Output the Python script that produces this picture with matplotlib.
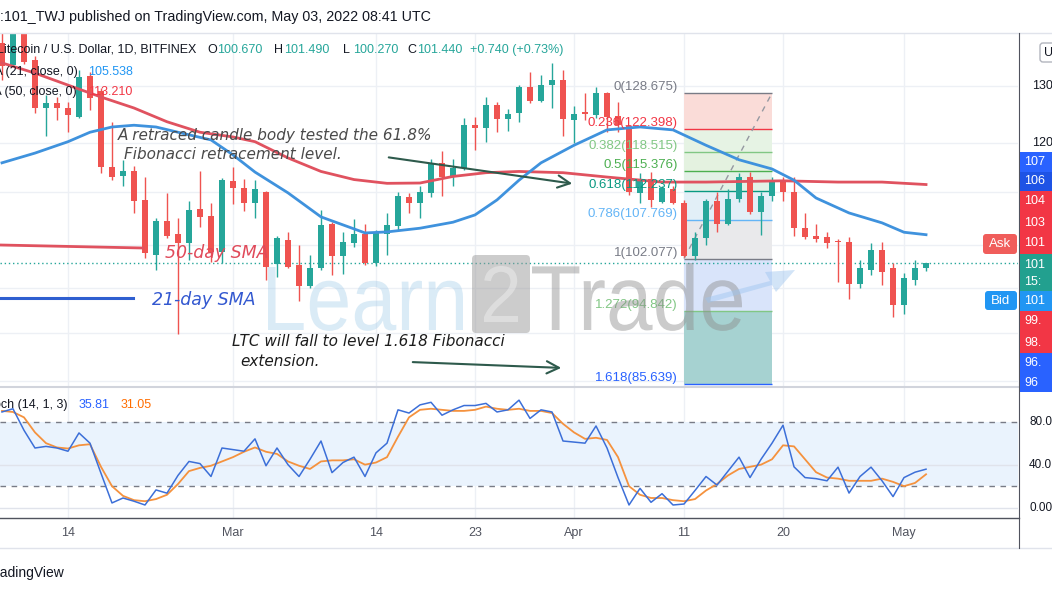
import numpy as np
import pandas as pd
import matplotlib
matplotlib.use("Agg")
import matplotlib.pyplot as plt
from matplotlib.patches import Rectangle, PathPatch, Polygon, FancyBboxPatch
from matplotlib.textpath import TextPath
from matplotlib.font_manager import FontProperties
from matplotlib.transforms import Affine2D, blended_transform_factory
from matplotlib.ticker import NullLocator

plt.rcParams["font.family"] = ["Liberation Sans", "DejaVu Sans"]

# LTC/USD daily candles (Bitfinex), Feb 08 - May 03 2022
dates = pd.date_range("2022-02-08", "2022-05-03", freq="D")
opens = [138.0, 133.8, 140.0, 134.75, 126.0, 126.9, 126.0, 124.5, 131.8, 129.0,
         116.0, 114.6, 115.3, 110.8, 102.6, 107.6, 105.7, 104.3, 109.4, 108.3,
         103.0, 113.8, 112.6, 110.3, 112.0, 101.3, 104.8, 101.2, 98.2, 100.7,
         107.2, 102.5, 104.3, 105.7, 101.5, 105.7, 106.8, 111.3, 110.3, 111.8,
         116.7, 114.6, 115.8, 123.0, 122.6, 126.6, 124.1, 125.1, 129.8, 127.2,
         130.2, 131.0, 123.9, 125.3, 124.8, 128.7, 124.6, 122.8, 111.8, 114.1,
         110.5, 112.5, 110.3, 102.5, 105.0, 110.6, 107.2, 110.9, 114.4, 108.9,
         111.4, 113.9, 112.0, 106.5, 105.4, 105.2, 104.6, 104.5, 98.5, 100.5,
         103.3, 100.7, 95.7, 99.0, 100.67]
highs = [140.0, 141.0, 141.0, 135.5, 128.3, 128.0, 127.1, 132.9, 132.5, 129.6,
         123.5, 117.2, 116.2, 114.4, 108.1, 111.8, 108.1, 110.6, 115.3, 110.3,
         114.2, 116.0, 114.1, 113.9, 112.2, 105.3, 106.0, 104.0, 102.6, 109.3,
         107.5, 105.9, 107.9, 107.2, 106.2, 108.8, 112.1, 111.9, 113.0, 117.3,
         118.6, 117.4, 124.2, 124.4, 128.0, 127.1, 125.8, 130.2, 132.5, 131.9,
         134.1, 132.9, 126.4, 128.7, 129.7, 128.8, 127.1, 123.1, 115.0, 115.2,
         113.0, 113.0, 110.8, 105.9, 111.0, 112.1, 112.5, 115.0, 115.2, 112.0,
         114.4, 114.4, 114.4, 108.8, 107.2, 105.9, 104.9, 105.2, 101.9, 104.3,
         104.4, 101.5, 100.1, 101.9, 101.49]
lows = [131.0, 133.4, 134.0, 125.2, 121.2, 123.9, 121.9, 124.3, 125.6, 115.0,
        113.9, 113.0, 108.8, 102.2, 100.5, 105.1, 91.9, 101.9, 106.7, 101.6,
        101.5, 110.2, 109.1, 108.0, 99.1, 99.5, 100.8, 96.2, 98.0, 100.4,
        99.8, 99.9, 103.7, 101.2, 101.0, 102.6, 106.2, 108.8, 108.1, 111.3,
        111.4, 113.0, 115.5, 118.8, 120.1, 121.8, 122.0, 123.6, 126.9, 127.1,
        126.0, 121.2, 120.0, 123.9, 124.3, 121.9, 121.9, 111.6, 110.3, 109.7,
        110.3, 110.2, 102.3, 101.9, 104.0, 105.9, 107.0, 110.5, 108.6, 105.5,
        110.6, 110.6, 105.4, 104.9, 104.5, 103.6, 98.8, 96.5, 97.9, 99.7,
        98.4, 94.1, 94.4, 98.4, 100.27]
closes = [133.6, 140.0, 134.4, 126.0, 126.9, 126.0, 124.8, 131.6, 127.8, 116.0,
          114.4, 115.3, 110.6, 102.8, 107.6, 105.4, 104.3, 109.3, 108.2, 103.0,
          113.9, 112.6, 110.3, 112.5, 100.9, 105.0, 100.9, 98.2, 100.8, 107.0,
          102.5, 104.5, 105.6, 101.5, 105.9, 107.0, 111.4, 110.3, 112.1, 116.6,
          114.4, 115.8, 123.1, 122.6, 126.6, 124.1, 124.9, 129.8, 127.2, 130.2,
          131.0, 124.1, 124.9, 124.9, 128.7, 124.5, 123.0, 112.0, 114.1, 110.8,
          112.6, 110.3, 102.5, 105.0, 110.6, 107.2, 110.9, 114.4, 108.9, 111.4,
          113.9, 112.0, 106.5, 105.2, 104.9, 104.3, 104.4, 98.5, 100.7, 103.3,
          100.2, 95.7, 99.4, 100.70, 101.44]

# moving averages, sampled off the drawn curves
sma21_dates = ["2022-02-08", "2022-02-11", "2022-02-14", "2022-02-16", "2022-02-18",
               "2022-02-20", "2022-02-22", "2022-02-24", "2022-02-27", "2022-03-01",
               "2022-03-03", "2022-03-06", "2022-03-09", "2022-03-12", "2022-03-13",
               "2022-03-15", "2022-03-18", "2022-03-21", "2022-03-23", "2022-03-25",
               "2022-03-27", "2022-03-29", "2022-04-01", "2022-04-04", "2022-04-07",
               "2022-04-10", "2022-04-13", "2022-04-16", "2022-04-19", "2022-04-21",
               "2022-04-23", "2022-04-26", "2022-04-29", "2022-05-01", "2022-05-03"]
sma21 = [116.7, 118.3, 120.2, 121.8, 122.7, 123.0, 122.7, 121.8, 120.5, 118.0,
         115.2, 111.9, 108.2, 106.4, 105.8, 105.95, 106.5, 107.4, 108.5, 110.8,
         113.9, 116.7, 119.6, 122.2, 122.7, 122.2, 119.6, 117.2, 115.7, 113.9,
         111.1, 108.8, 107.3, 105.9, 105.538]
sma50_dates = ["2022-02-08", "2022-02-11", "2022-02-14", "2022-02-17", "2022-02-20",
               "2022-02-23", "2022-02-26", "2022-03-01", "2022-03-03", "2022-03-06",
               "2022-03-09", "2022-03-12", "2022-03-15", "2022-03-18", "2022-03-21",
               "2022-03-24", "2022-03-27", "2022-03-31", "2022-04-04", "2022-04-09",
               "2022-04-13", "2022-04-20", "2022-04-25", "2022-04-29", "2022-05-03"]
sma50 = [134.2, 132.3, 130.1, 127.95, 126.0, 123.6, 121.8, 121.0, 120.2, 117.5,
         115.3, 114.0, 113.4, 113.45, 114.5, 115.1, 115.3, 115.1, 114.4, 113.6,
         113.6, 113.8, 113.6, 113.6, 113.21]

# Stoch (14, 1, 3)
stoch_k = [89, 92, 72, 55.5, 57, 55.5, 52.5, 69.5, 60, 32,
           4.4, 9, 6, 2.5, 16.5, 13.5, 30, 43, 41, 29,
           55.5, 54, 52.5, 64, 39, 55.5, 40, 29, 45, 62,
           32.6, 42, 47, 29, 51, 60, 91, 88, 95.6, 98,
           86, 91, 95, 95, 97, 89, 91, 100, 83, 91,
           89, 62, 61, 60, 76, 55.5, 28, 2.5, 18, 5,
           13, 2.5, 3.4, 16, 29, 21, 34, 47, 28, 45,
           60, 76.7, 38, 28, 27, 25, 37.7, 13.6, 29, 37.7,
           25, 10.3, 28, 33, 35.81]
stoch_d = [90, 89, 84, 70, 60, 56, 55, 58, 59, 38,
           20, 11, 7, 6, 8, 12, 22, 34, 37, 39,
           43, 47, 52, 56, 52, 50, 43, 39, 36, 43,
           44, 44, 45, 40, 42, 47, 66, 84, 91, 92,
           91, 90, 90, 91, 94, 92, 91, 92, 90, 90,
           88, 78, 70, 64, 65, 63, 47, 20, 12, 9,
           9, 7, 6, 8, 16, 22, 30, 36, 38, 40,
           45, 58, 57, 45, 33, 28, 27, 25, 25, 25,
           27, 24, 20, 23, 31.05]

fib_ratios = [0, 0.236, 0.382, 0.5, 0.618, 0.786, 1, 1.272, 1.618]
fib_prices = [128.675, 122.398, 118.515, 115.376, 112.237, 107.769, 102.077, 94.842, 85.639]
fib_start, fib_end = "2022-04-11", "2022-04-19"

tick_dates = ["2022-02-14", "2022-03-01", "2022-03-14", "2022-03-23",
              "2022-04-01", "2022-04-11", "2022-04-20", "2022-05-01"]
tick_labels = ["14", "Mar", "14", "23", "Apr", "11", "20", "May"]
price_grid = [130, 120, 112, 104, 98, 92, 86]


def pos(d):
    return dates.get_loc(pd.Timestamp(d))


W, H = 1052, 592
fig = plt.figure(figsize=(W / 100, H / 100), dpi=100)


def box(x0, y0, x1, y1):
    return [x0 / W, 1 - y1 / H, (x1 - x0) / W, (y1 - y0) / H]


ax = fig.add_axes(box(0, 34, 1018, 386))
st = fig.add_axes(box(0, 388, 1018, 518))
ov = fig.add_axes([0, 0, 1, 1], zorder=10)
ov.set_xlim(0, W)
ov.set_ylim(H, 0)
ov.axis("off")

x = np.arange(len(dates))
o, h, l, c = map(np.array, (opens, highs, lows, closes))

for a in (ax, st):
    a.set_xlim(-0.18, 92.36)
    for s in a.spines.values():
        s.set_visible(False)
    a.tick_params(which="both", left=False, bottom=False, labelleft=False, labelbottom=False)

ax.set_yscale("log")
ax.set_ylim(85.41, 139.74)
ax.yaxis.set_major_locator(NullLocator())
ax.yaxis.set_minor_locator(NullLocator())

# grid
grid_col = "#edf0f5"
for v in price_grid:
    ax.axhline(v, color=grid_col, lw=1, zorder=0)
tick_x = [pos(d) for d in tick_dates]
for t in tick_x:
    ax.axvline(t, color=grid_col, lw=1, zorder=0)
    st.axvline(t, color=grid_col, lw=1, zorder=0)

# fibonacci retracement
fx0, fx1 = pos(fib_start), pos(fib_end)
fib_line_cols = ["#787b86", "#f23645", "#81c784", "#4caf50", "#089981",
                 "#64b5f6", "#787b86", "#81c784", "#2962ff"]
fib_fill_cols = ["#fadcd8", "#e6f3e4", "#e4f2e0", "#e2f1e6", "#e2eff7",
                 "#e9e9eb", "#d9e4fa", "#a6d2d1"]
for i in range(len(fib_prices) - 1):
    ax.fill_between([fx0, fx1], fib_prices[i], fib_prices[i + 1],
                    color=fib_fill_cols[i], lw=0, zorder=1)
ax.hlines(fib_prices, fx0, fx1, colors=fib_line_cols, lw=1, zorder=2)
for r, p, col in zip(fib_ratios, fib_prices, fib_line_cols):
    ax.text(fx0 - 0.55, p, f"{r:g}({p:.3f})", ha="right", va="bottom",
            color=col, fontsize=9.5, zorder=6)
ax.plot([fx0, fx1], [fib_prices[6], fib_prices[0]], color="#9598a1",
        lw=1, ls=(0, (4, 4)), zorder=2)

# candles
col = np.where(c >= o, "#26a69a", "#ef5350")
ax.vlines(x, l, h, colors=col, lw=1, zorder=3)
ax.bar(x, np.maximum(np.abs(c - o), 0.15), bottom=np.minimum(o, c), width=0.62,
       color=col, lw=0, zorder=3)

# moving averages
ax.plot([pos(d) for d in sma50_dates], sma50, color="#e0525f", lw=2, zorder=4,
        solid_joinstyle="round")
ax.plot([pos(d) for d in sma21_dates], sma21, color="#3f92dd", lw=2, zorder=4,
        solid_joinstyle="round")
ax.axhline(c[-1], color="#26a69a", lw=1, ls=(0, (1, 2)), zorder=2)

ytr = ax.get_yaxis_transform()
for v in (130, 120):
    ax.text(1032 / 1018, v, str(v), transform=ytr, ha="left", va="center",
            fontsize=9, color="#131722", clip_on=False)

# stochastic panel
st.set_ylim(-9.6, 111.3)
st.axhspan(20, 80, color="#eaf3fd", lw=0, zorder=0)
for v in (40, 0):
    st.axhline(v, color="#e0e3eb", lw=1, zorder=0.5)
for v in (80, 20):
    st.axhline(v, color="#787b86", lw=1, ls=(0, (4, 4)), zorder=1)
st.plot(x, stoch_d, color="#f5923e", lw=1.3, zorder=3)
st.plot(x, stoch_k, color="#3c6fd8", lw=1.1, zorder=4)
for v, s in ((80, "80.0"), (40, "40.0"), (0, "0.00")):
    st.text(1029 / 1018, v, s, transform=st.get_yaxis_transform(), ha="left",
            va="center", fontsize=8.5, color="#131722", clip_on=False)

tt = blended_transform_factory(st.transData, ov.transData)
for t, s in zip(tick_x, tick_labels):
    st.text(t, 533, s, transform=tt, ha="center", va="center", fontsize=9,
            color="#50535e", clip_on=False)

# ---- overlay (pixel coordinates) ----
ov.text(-4, 17, "t:101_TWJ published on TradingView.com, May 03, 2022 08:41 UTC",
        va="center", fontsize=10.3, color="#131722")
ov.plot([0, W], [33, 33], color="#e0e3eb", lw=1)
ov.plot([0, 1019], [387, 387], color="#d1d4dc", lw=1.5)
ov.plot([0, 1019], [518, 518], color="#50535e", lw=1)
ov.plot([0, W], [548, 548], color="#e0e3eb", lw=1)
ov.plot([1019, 1019], [33, 548], color="#50535e", lw=0.8)
ov.text(64, 573, "TradingView", ha="right", va="center", fontsize=10, color="#131722")

# legend
ov.text(196, 50, "Litecoin / U.S. Dollar, 1D, BITFINEX", ha="right", va="center",
        fontsize=9, color="#131722")
teal = "#26a69a"
for lx, key, val in ((207, "O", opens[-1]), (274, "H", highs[-1]),
                     (343, "L", lows[-1]), (407, "C", closes[-1])):
    ov.text(lx, 50, key, va="center", fontsize=9, color="#131722")
    ov.text(lx + 10, 50, f"{val:.3f}", va="center", fontsize=9, color=teal)
chg = closes[-1] - closes[-2]
ov.text(470, 50, f"+{chg:.3f} (+{chg / closes[-2] * 100:.2f}%)", va="center",
        fontsize=9, color=teal)
ov.text(78, 72, "MA (21, close, 0)", ha="right", va="center", fontsize=9, color="#131722")
ov.text(88, 72, f"{sma21[-1]:.3f}", va="center", fontsize=9, color="#2196f3")
ov.text(77, 92, "MA (50, close, 0)", ha="right", va="center", fontsize=9, color="#131722")
ov.text(88, 92, f"{sma50[-1]:.3f}", va="center", fontsize=9, color="#f23645")
ov.text(67, 405, "Stoch (14, 1, 3)", ha="right", va="center", fontsize=9, color="#131722")
ov.text(79, 405, f"{stoch_k[-1]:.2f}", va="center", fontsize=9, color="#2962ff")
ov.text(121, 405, f"{stoch_d[-1]:.2f}", va="center", fontsize=9, color="#ff6d00")

# watermark
wm_font = FontProperties(family="Liberation Sans")


def watermark(s, x0, x1, ytop, ybase, color, alpha):
    tp = TextPath((0, 0), s, size=100, prop=wm_font)
    ext = tp.get_extents()
    tr = (Affine2D().translate(-ext.x0, 0)
          .scale((x1 - x0) / ext.width, -(ybase - ytop) / ext.y1)
          .translate(x0, ybase))
    ov.add_patch(PathPatch(tr.transform_path(tp), fc=color, ec="none",
                           alpha=alpha, zorder=1))


watermark("Learn", 268, 463, 267, 330, "#9fcbe8", 0.38)
ov.add_patch(FancyBboxPatch((472, 255), 58, 78, boxstyle="round,pad=0,rounding_size=4",
                            fc="#9a9a9a", ec="none", alpha=0.5, zorder=1))
watermark("2", 484, 518, 266, 322, "#ffffff", 0.35)
watermark("Trade", 532, 742, 263, 330, "#8c8c8c", 0.45)
ov.add_patch(Polygon([(705, 298), (770, 281), (765, 272), (795, 270), (776, 292),
                      (772, 285), (708, 303)], closed=True, fc="#9cc4ef",
                     ec="none", alpha=0.45, zorder=1))

# drawings
ov.plot([0, 143], [245, 248], color="#e0525f", lw=2)
ov.text(165, 258, "50-day SMA", color="#e04a5a", fontsize=12.5, style="italic",
        family="DejaVu Sans", va="baseline")
ov.plot([0, 133], [298, 298], color="#2f5fd0", lw=2.2)
ov.text(152, 305, "21-day SMA", color="#3358d0", fontsize=12.5, style="italic",
        family="DejaVu Sans", va="baseline")

ov.text(118, 140, "A retraced candle body tested the 61.8%", fontsize=11,
        style="italic", family="DejaVu Sans", color="#4a4a4a", va="baseline")
ov.text(124, 159, "Fibonacci retracement level.", fontsize=11,
        style="italic", family="DejaVu Sans", color="#4a4a4a", va="baseline")
ov.annotate("", xy=(575, 184), xytext=(386, 157),
            arrowprops=dict(arrowstyle="->", color="#2e5a4c", lw=1.5, mutation_scale=22))
ov.text(232, 346, "LTC will fall to level 1.618 Fibonacci", fontsize=11,
        style="italic", family="DejaVu Sans", color="#1c1c1c", va="baseline")
ov.text(240, 366, "extension.", fontsize=11,
        style="italic", family="DejaVu Sans", color="#1c1c1c", va="baseline")
ov.annotate("", xy=(564, 368), xytext=(410, 362),
            arrowprops=dict(arrowstyle="->", color="#2e5a4c", lw=1.5, mutation_scale=22))

# right axis price tags
tags = [(152, 172, "#2962ff", "107"), (172, 191, "#1e53e5", "106"),
        (191, 212, "#f23645", "104"), (212, 233, "#f23645", "103"),
        (233, 254, "#f23645", "101"), (254, 291, "#22a08f", ""),
        (291, 311, "#2196f3", "101"), (311, 332, "#f23645", "99."),
        (332, 353, "#f23645", "98."), (353, 374, "#2962ff", "96."),
        (374, 392, "#2962ff", "96")]
for y0, y1, fc, s in tags:
    ov.add_patch(Rectangle((1020, y0), 40, y1 - y0, fc=fc, ec="none", zorder=2))
    if s:
        ov.text(1024, (y0 + y1) / 2, s, color="white", fontsize=9, va="center", zorder=3)
ov.text(1024, 265, "101", color="white", fontsize=9, va="center", zorder=3)
ov.text(1024, 282, "15:", color="white", fontsize=9, va="center", zorder=3)
ov.add_patch(FancyBboxPatch((983, 234), 34, 20, boxstyle="round,pad=0,rounding_size=3",
                            fc="#f05d5b", ec="none", zorder=2))
ov.text(1000, 244, "Ask", color="white", fontsize=9.5, ha="center", va="center", zorder=3)
ov.add_patch(FancyBboxPatch((985, 291), 32, 19, boxstyle="round,pad=0,rounding_size=3",
                            fc="#2196f3", ec="none", zorder=2))
ov.text(1001, 300.5, "Bid", color="white", fontsize=9.5, ha="center", va="center", zorder=3)
ov.add_patch(FancyBboxPatch((1040, 43), 22, 19, boxstyle="round,pad=0,rounding_size=3",
                            fc="white", ec="#b2b5be", lw=1, zorder=2))
ov.text(1044, 52.5, "U", color="#131722", fontsize=9, va="center", zorder=3)

fig.savefig("out.png", dpi=100)
